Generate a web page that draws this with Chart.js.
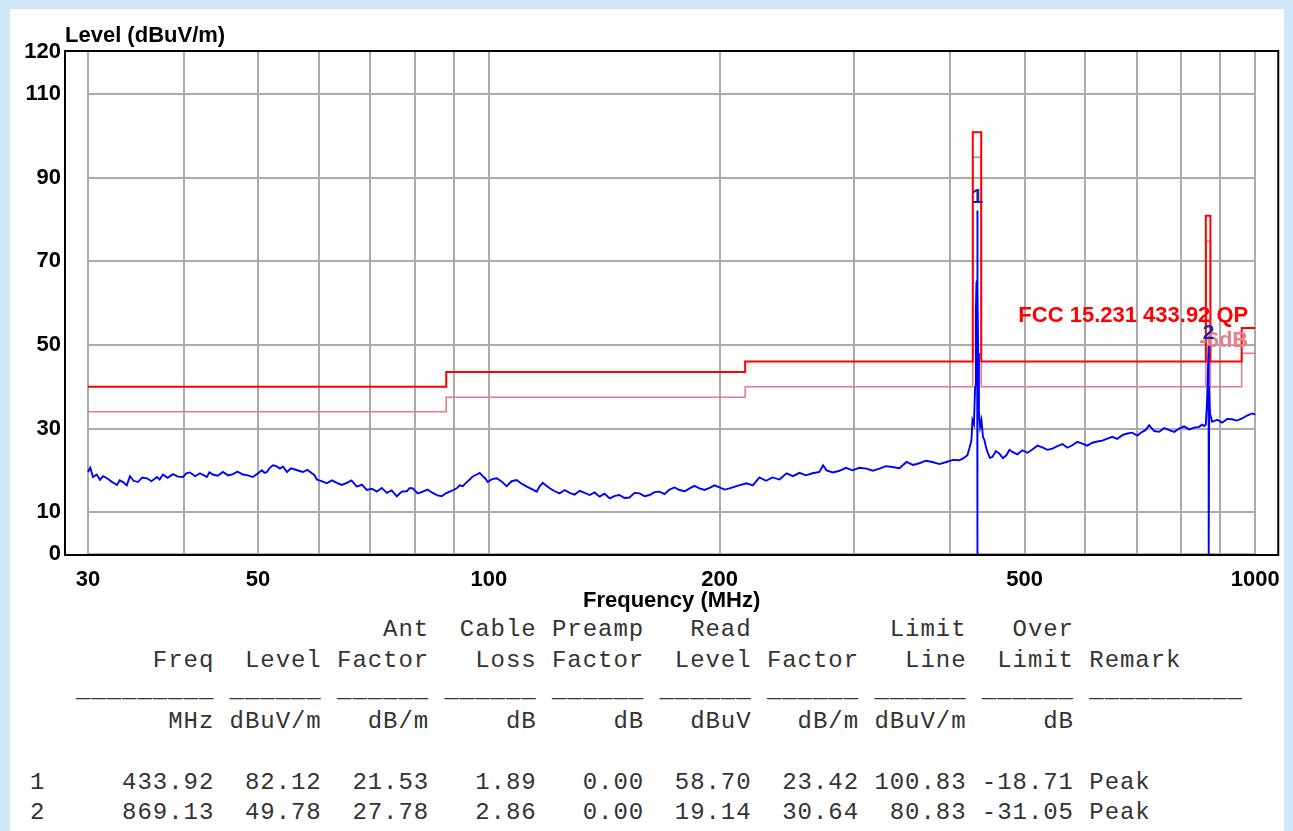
<!DOCTYPE html>
<html><head><meta charset="utf-8">
<script src="https://cdn.jsdelivr.net/npm/chart.js@4.4.1/dist/chart.umd.min.js"></script>
<style>
html,body{margin:0;padding:0;width:1293px;height:831px;overflow:hidden;background:#cfe6f6;}
#panel{position:absolute;left:10px;top:9px;width:1274px;height:822px;background:#fff;}
#c{position:absolute;left:0;top:0;}
#tbl{position:absolute;left:30px;top:615px;margin:0;font:24px "Liberation Mono","Courier New",monospace;letter-spacing:0.95px;line-height:30.5px;color:#333;white-space:pre;}
</style></head><body>
<div id="panel"></div>
<canvas id="c" width="1293" height="615"></canvas>
<pre id="tbl"></pre>
<script>
'use strict';
// axis ticks
const xGrid=[30,40,50,60,70,80,90,100,200,300,400,500,600,700,800,900,1000];
const xLabels=[30,50,100,200,500,1000];
const yTicks=[0,10,30,50,70,90,110,120];
const yGrid=[0,10,30,50,70,90,110];

// measured spectrum (MHz / dBuV/m)
const traceFreq=[30.0,30.2,30.45,30.8,31.1,31.4,31.76,32.2,32.73,33.0,33.32,33.7,34.03,34.4,34.86,35.3,35.81,36.3,36.91,37.2,
 37.58,38.1,38.72,39.3,39.9,40.3,40.75,41.4,41.99,42.4,42.88,43.2,43.66,44.3,44.99,45.7,46.37,47.0,47.78,48.5,
 49.23,49.9,50.58,51.0,51.35,51.8,52.28,52.8,53.39,53.9,54.53,55.2,55.85,56.5,57.2,58.0,58.77,59.2,59.66,60.5,
 61.48,62.4,63.35,64.3,65.28,66.2,67.27,68.3,69.32,70.4,71.43,72.5,73.61,74.7,75.85,77.0,78.16,78.9,79.58,80.8,
 82.0,83.2,84.5,85.7,86.82,87.9,88.93,89.9,90.82,91.6,92.47,93.4,94.43,95.4,96.44,97.3,98.19,99.0,99.67,101.0,
 102.4,104.0,105.5,107.1,108.7,110.4,112.1,113.8,115.5,116.5,117.6,118.8,120.1,121.9,123.7,125.6,127.5,129.4,131.4,133.4,
 135.4,137.4,139.5,141.6,143.8,146.0,148.1,150.3,152.6,154.9,157.3,159.7,162.1,164.5,167.0,169.5,172.1,174.7,177.4,180.1,
 182.8,185.5,188.3,191.2,194.1,197.0,200.0,203.0,206.1,211.0,216.9,221.0,225.5,230.0,234.5,239.5,244.6,249.4,254.3,259.3,
 264.4,270.0,273.0,275.8,281.2,286.8,292.4,298.2,304.5,311.0,317.2,323.4,329.7,336.2,343.4,350.7,357.6,364.6,371.8,379.1,
 387.2,395.4,403.3,411.2,416.2,421.2,424.0,426.3,427.6,429.5,431.0,432.0,432.8,433.3,433.6,433.92,434.0,434.3,435.0,436.0,
 437.5,439.3,441.3,443.3,445.3,447.3,450.5,454.0,458.8,463.7,468.5,473.5,477.8,482.1,489.4,496.8,504.4,512.0,519.8,527.6,
 535.6,543.6,551.9,560.2,568.7,577.2,586.0,594.8,603.8,612.9,622.2,631.6,641.2,650.8,660.6,670.6,680.8,691.0,701.5,712.1,
 719.0,727.2,738.2,749.4,760.7,772.2,784.0,795.7,807.8,819.9,832.3,844.9,852.0,858.0,862.0,865.0,867.0,869.13,869.5,871.0,
 873.0,878.5,891.9,905.2,919.0,932.8,946.9,961.2,975.8,990.5,1000];
const traceLevel=[19.6,20.6,18.4,19.0,17.7,18.6,18.1,17.3,16.5,17.6,17.2,16.4,18.6,17.5,17.2,18.3,18.1,17.4,18.4,17.8,
 19.0,18.2,19.1,18.5,18.4,19.3,19.5,18.6,19.3,18.9,18.4,19.5,19.0,18.7,19.6,18.8,19.1,19.7,19.0,18.8,
 18.4,19.2,20.0,19.4,19.6,20.6,21.2,21.0,20.4,20.9,19.6,20.5,20.2,19.9,19.6,20.1,19.3,18.9,17.8,17.4,
 16.9,17.6,17.0,16.5,17.0,17.6,16.1,16.6,15.3,15.6,14.9,15.8,14.6,15.2,13.8,14.9,15.0,15.8,15.7,14.5,
 14.9,15.4,14.6,14.0,13.8,14.5,14.9,15.3,15.7,16.4,16.2,17.0,17.8,18.6,19.0,19.4,18.6,18.0,17.2,17.9,
 18.1,17.3,16.2,17.4,17.7,16.8,16.1,15.5,14.9,16.2,17.0,16.4,15.7,15.0,14.5,15.3,14.6,14.2,15.1,14.6,
 14.1,14.7,13.7,14.4,13.3,13.9,14.1,13.4,13.5,14.6,14.5,13.8,14.1,14.8,14.9,14.3,15.4,15.9,15.3,15.0,
 15.7,16.3,15.7,15.3,15.8,16.4,15.9,15.4,15.7,16.3,16.9,16.4,18.3,17.5,18.3,17.8,19.3,18.6,19.4,18.8,
 19.3,19.6,21.2,20.0,19.5,19.9,20.6,20.0,20.6,20.4,19.9,20.4,21.0,20.8,20.5,22.0,21.3,21.7,22.3,22.0,
 21.5,22.0,22.5,22.4,22.9,23.6,25.5,27.2,32.0,31.0,40.0,58.0,65.0,52.0,65.5,82.12,0,64.0,48.0,34.0,
 30.4,32.0,28.0,27.2,25.6,24.4,23.0,23.2,24.6,24.0,22.9,23.6,24.9,24.4,23.8,24.8,24.2,25.0,25.9,25.5,
 24.9,25.2,25.8,26.3,25.4,26.0,26.8,26.4,25.9,26.6,26.9,27.1,27.6,28.0,27.5,28.4,28.8,29.0,28.3,29.2,
 29.6,30.8,29.4,29.2,30.1,29.6,29.2,30.0,30.5,29.8,30.2,30.4,30.9,30.6,31.0,36.0,42.0,49.78,0,40.0,
 33.5,31.6,32.1,31.4,32.3,32.2,31.9,32.4,33.1,33.6,33.3];

// FCC 15.231 433.92 QP limit and limit - 6 dB
const limitFreq=[30,88,88,216,216,428,428,439,439,862,862,874,874,960,960,1000];
const limitLevel=[40,40,43.5,43.5,46,46,100.83,100.83,46,46,80.83,80.83,46,46,54,54];
const marginLevel=[34,34,37.5,37.5,40,40,94.83,94.83,40,40,74.83,74.83,40,40,48,48];

// marker table
const mkNo=['1','2'];
const mkFreq=[433.92,869.13];
const mkLevel=[82.12,49.78];
const antFactor=[21.53,27.78];
const cableLoss=[1.89,2.86];
const preampFactor=[0.00,0.00];
const readLevel=[58.70,19.14];
const corrFactor=[23.42,30.64];
const limitLine=[100.83,80.83];
const overLimit=[-18.71,-31.05];
const remark=['Peak','Peak'];

const colEnd=[11,18,25,32,39,46,53,60,67];
function place(items){let s='';items.forEach(([t,end])=>{s=s.padEnd(end+1-t.length)+t;});return s;}
const u6='______';
const lines=[
  place([['Ant',25],['Cable',32],['Preamp',39],['Read',46],['Limit',60],['Over',67]]),
  place([['Freq',11],['Level',18],['Factor',25],['Loss',32],['Factor',39],['Level',46],['Factor',53],['Line',60],['Limit',67],['Remark',74]]),
  place([['_'.repeat(9),11],[u6,18],[u6,25],[u6,32],[u6,39],[u6,46],[u6,53],[u6,60],[u6,67],['_'.repeat(10),78]]),
  place([['MHz',11],['dBuV/m',18],['dB/m',25],['dB',32],['dB',39],['dBuV',46],['dB/m',53],['dBuV/m',60],['dB',67]]),
  ''
];
mkNo.forEach((n,i)=>{
  const vals=[mkFreq[i],mkLevel[i],antFactor[i],cableLoss[i],preampFactor[i],readLevel[i],corrFactor[i],limitLine[i],overLimit[i]];
  lines.push(place([[n,0],...vals.map((v,k)=>[v.toFixed(2),colEnd[k]]),[remark[i],72]]));
});
document.getElementById('tbl').textContent=lines.join('\n');

const F='"Liberation Sans", Arial, sans-serif';
const pts=(xs,ys)=>xs.map((x,i)=>({x,y:ys[i]}));

const deco={id:'deco',
  beforeDatasetsDraw(c){
    const {ctx,scales:{x,y}}=c;
    const l=x.getPixelForValue(30),r=x.getPixelForValue(1000);
    ctx.save();ctx.strokeStyle='#ababab';ctx.lineWidth=2;
    yGrid.forEach(v=>{const p=Math.round(y.getPixelForValue(v));ctx.beginPath();ctx.moveTo(l,p);ctx.lineTo(r,p);ctx.stroke();});
    ctx.restore();
  },
  afterDatasetsDraw(c){
    const {ctx,chartArea:a,scales:{x,y}}=c;
    ctx.save();
    ctx.strokeStyle='#000';ctx.lineWidth=2;
    ctx.strokeRect(a.left-1,a.top-1,a.right-a.left+2,a.bottom-a.top+2);
    ctx.font='bold 22px '+F;ctx.textBaseline='alphabetic';
    ctx.fillStyle='#000';ctx.textAlign='left';
    ctx.fillText('Level (dBuV/m)',a.left-1,a.top-10);
    const rx=x.getPixelForValue(1000)-7;
    ctx.textAlign='right';
    ctx.fillStyle='#ff0000';
    ctx.fillText('FCC 15.231 433.92 QP',rx,y.getPixelForValue(54)-6);
    ctx.fillStyle='#e8808e';
    ctx.fillText('-6dB',rx,y.getPixelForValue(48)-6);
    ctx.textAlign='center';ctx.fillStyle='#2323a0';ctx.font='bold 21px '+F;
    mkNo.forEach((n,i)=>ctx.fillText(n,x.getPixelForValue(mkFreq[i]),y.getPixelForValue(mkLevel[i])-7));
    ctx.restore();
  }
};

new Chart(document.getElementById('c'),{
  type:'line',
  data:{datasets:[
    {data:pts(traceFreq,traceLevel),borderColor:'#0000ff',borderWidth:1.9,pointRadius:0,tension:0},
    {data:pts(limitFreq,limitLevel),borderColor:'#ff0000',borderWidth:2,pointRadius:0,tension:0},
    {data:pts(limitFreq,marginLevel),borderColor:'#e8788a',borderWidth:1.5,pointRadius:0,tension:0}
  ]},
  options:{
    responsive:false,animation:false,
    layout:{padding:{top:52,right:15,left:0,bottom:0}},
    plugins:{legend:{display:false},tooltip:{enabled:false}},
    scales:{
      x:{type:'logarithmic',min:28.08,max:1068.3,
        afterBuildTicks:s=>{s.ticks=xGrid.map(v=>({value:v}));},
        afterFit:s=>{s.height=61;},
        grid:{color:'#ababab',lineWidth:2,drawTicks:false},border:{display:false},
        ticks:{autoSkip:false,maxRotation:0,padding:13,color:'#000',font:{family:F,size:22,weight:'bold'},
          callback:v=>xLabels.includes(v)?String(v):''},
        title:{display:true,text:'Frequency (MHz)',color:'#000',font:{family:F,size:22,weight:'bold'},padding:{top:2,bottom:1}}
      },
      y:{min:0,max:120,
        afterBuildTicks:s=>{s.ticks=yTicks.map(v=>({value:v}));},
        afterFit:s=>{s.width=66;},
        grid:{display:false,drawTicks:false},border:{display:false},
        ticks:{padding:5,color:'#000',font:{family:F,size:22,weight:'bold'}}
      }
    }
  },
  plugins:[deco]
});
</script>
</body></html>
